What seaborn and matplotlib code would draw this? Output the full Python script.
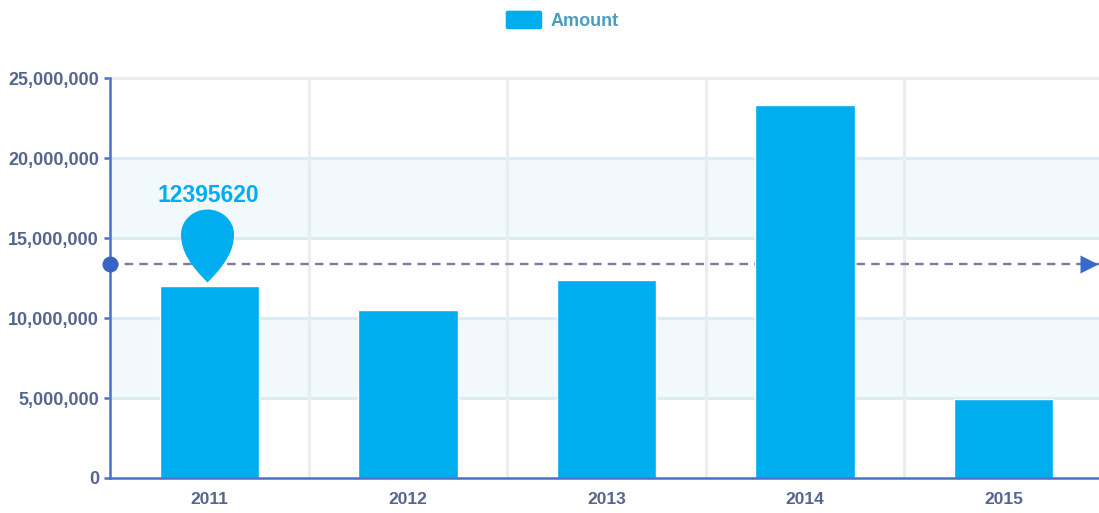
import matplotlib
matplotlib.use("Agg")
import matplotlib.pyplot as plt
import seaborn as sns
import pandas as pd
from matplotlib.path import Path
from matplotlib.patches import FancyBboxPatch
from matplotlib.legend_handler import HandlerPatch
from matplotlib.ticker import FuncFormatter

# data
years = ["2011", "2012", "2013", "2014", "2015"]
amounts = [11990000, 10490000, 12370000, 23310000, 4930000]
mean_value = 13375000
pin_value = 12395620
pin_year = "2011"
y_ticks = [0, 5000000, 10000000, 15000000, 20000000, 25000000]
band_ranges = [(5000000, 10000000), (15000000, 20000000)]

BAR = "#00aeef"
AXIS = "#4a70c8"
TICK_TXT = "#56658f"

sns.set_theme(style="white")
plt.rcParams["font.family"] = ["Liberation Sans", "DejaVu Sans"]
plt.rcParams["font.weight"] = "bold"

df = pd.DataFrame({"year": years, "Amount": amounts})

fig = plt.figure(figsize=(10.99, 5.13), dpi=100)
ax = fig.add_axes([110 / 1099, 35 / 513, 989 / 1099, 400 / 513])

sns.barplot(data=df, x="year", y="Amount", color=BAR, saturation=1, width=0.5, ax=ax, zorder=3)

# the right end of the last category is cut off by the picture edge
ax.set_xlim(-0.5, 4.48)
ax.set_ylim(0, 25000000)
ax.set_xlabel("")
ax.set_ylabel("")

# split areas and grid
for lo, hi in band_ranges:
    ax.axhspan(lo, hi, color="#f2f9fd", lw=0, zorder=0)
for v in y_ticks[1:]:
    in_band = any(v in b for b in band_ranges)
    ax.axhline(v, color="#dcecf5" if in_band else "#e9edf1", lw=2.2, zorder=1, clip_on=False)
for i in range(1, 5):
    ax.axvline(i - 0.5, color="#e9ecf0", lw=2.2, zorder=1)

for s in ["top", "right"]:
    ax.spines[s].set_visible(False)
for s in ["left", "bottom"]:
    ax.spines[s].set_color(AXIS)
    ax.spines[s].set_linewidth(1.8)
    ax.spines[s].set_zorder(4)

ax.set_yticks(y_ticks)
ax.yaxis.set_major_formatter(FuncFormatter(lambda v, _: f"{int(v):,}"))
ax.tick_params(axis="y", left=True, length=4, width=1.8, color=AXIS, pad=4, labelsize=13, labelcolor=TICK_TXT)
ax.tick_params(axis="x", bottom=False, pad=4, labelsize=12.5, labelcolor=TICK_TXT)

# mean line with start dot and arrow head
ax.axhline(mean_value, color="#7c7c9c", lw=1.7, ls=(0, (3.6, 2.6)), zorder=2)
ax.plot([-0.5], [mean_value], marker="o", ms=11.5, color="#3a62c0", mec="none", clip_on=False, zorder=6)
ax.plot([4.43], [mean_value], marker=">", ms=13, color="#3a68cc", mec="none", clip_on=False, zorder=6)

# pin marker, tip sits just under the value
pin = Path(
    [(-2, -2), (-20, 16), (-28.5, 30), (-28.5, 46), (-28.5, 60), (-16.6, 71), (-2, 71), (12.6, 71), (24.5, 60), (24.5, 46), (24.5, 30), (16, 16), (-2, -2), (-2, -2)],
    [Path.MOVETO] + [Path.CURVE4] * 12 + [Path.CLOSEPOLY],
)
pin_x = years.index(pin_year)
ax.plot([pin_x], [pin_value], marker=pin, ms=142 * 0.72, color=BAR, mec="none", zorder=5)
ax.annotate(str(pin_value), (pin_x, pin_value), xytext=(-1, 84 * 0.72), textcoords="offset points",
            ha="center", va="center", color=BAR, fontsize=16.5, fontweight="bold", zorder=6)


# rounded legend swatch
def make_swatch(legend, orig_handle, xdescent, ydescent, width, height, fontsize):
    return FancyBboxPatch((-xdescent, -ydescent), width, height, boxstyle="round,pad=0,rounding_size=2")


swatch = ax.patches[0]
leg = fig.legend([swatch], ["Amount"], loc="center", bbox_to_anchor=(562 / 1099, 1 - 20 / 513), frameon=False,
                 handlelength=2.1, handleheight=1.325, handletextpad=0.44, fontsize=13,
                 handler_map={type(swatch): HandlerPatch(patch_func=make_swatch)})
for t in leg.get_texts():
    t.set_color("#4a9dbd")

fig.savefig("out.png", dpi=100)
